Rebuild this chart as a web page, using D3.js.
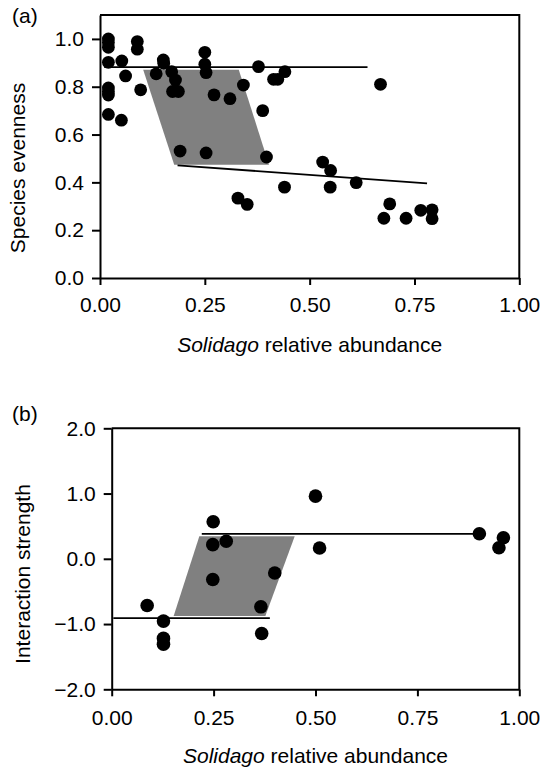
<!DOCTYPE html>
<html>
<head>
<meta charset="utf-8">
<script src="https://cdn.jsdelivr.net/npm/d3@7"></script>
<style>
  body { margin: 0; background: #fff; }
  text { font-family: "Liberation Sans", Arial, Helvetica, sans-serif; fill: #000; }
</style>
</head>
<body>
<svg></svg>
<script>
// panel (a): Solidago relative abundance vs species evenness
var evenAbund = [0.02, 0.02, 0.02, 0.02, 0.02, 0.02, 0.02, 0.02, 0.052, 0.061, 0.051, 0.089, 0.089, 0.097,
    0.134, 0.151, 0.152, 0.171, 0.18, 0.173, 0.187, 0.191, 0.25, 0.25, 0.253, 0.253, 0.272, 0.31, 0.342,
    0.329, 0.351, 0.378, 0.388, 0.397, 0.414, 0.424, 0.441, 0.44, 0.531, 0.55, 0.549, 0.611, 0.669,
    0.677, 0.691, 0.73, 0.765, 0.792, 0.792];
var evenValue = [1.0, 0.985, 0.965, 0.902, 0.795, 0.78, 0.765, 0.684, 0.908, 0.845, 0.66, 0.989, 0.957, 0.787,
    0.854, 0.912, 0.898, 0.863, 0.828, 0.78, 0.78, 0.531, 0.944, 0.894, 0.859, 0.523, 0.766, 0.75, 0.807,
    0.334, 0.308, 0.884, 0.70, 0.506, 0.831, 0.831, 0.863, 0.38, 0.485, 0.45, 0.38, 0.399, 0.81,
    0.25, 0.31, 0.25, 0.283, 0.285, 0.248];
var evenFitHigh = [[0.01, 0.882], [0.638, 0.882]];
var evenFitLow = [[0.185, 0.471], [0.78, 0.396]];
var evenBand = [[0.103, 0.871], [0.331, 0.871], [0.403, 0.474], [0.177, 0.474]];
var evenTicks = [0, 0.2, 0.4, 0.6, 0.8, 1.0];

// panel (b): Solidago relative abundance vs interaction strength
var interAbund = [0.087, 0.127, 0.127, 0.127, 0.249, 0.248, 0.281, 0.248, 0.40, 0.366, 0.368, 0.50, 0.51,
    0.902, 0.961, 0.95];
var interValue = [-0.716, -0.955, -1.22, -1.31, 0.568, 0.217, 0.268, -0.318, -0.217, -0.736, -1.144, 0.96, 0.166,
    0.383, 0.322, 0.169];
var interFitHigh = [[0.221, 0.383], [0.898, 0.383]];
var interFitLow = [[0.004, -0.91], [0.388, -0.91]];
var interBand = [[0.215, 0.344], [0.449, 0.344], [0.377, -0.877], [0.152, -0.877]];
var interTicks = [-2, -1, 0, 1, 2];

var abundTicks = [0, 0.25, 0.5, 0.75, 1.0];

var svg = d3.select('svg')
    .attr('width', 541)
    .attr('height', 770);

function panel(opt) {
    var g = svg.append('g').attr('transform', 'translate(' + opt.left + ',' + opt.top + ')');
    var x = d3.scaleLinear().domain([0, 1]).range([0, opt.width]);
    var y = d3.scaleLinear().domain(opt.yDomain).range([opt.height, 0]);

    g.append('polygon')
        .attr('points', opt.band.map(function (p) { return x(p[0]) + ',' + y(p[1]); }).join(' '))
        .style('fill', '#808080');

    var line = d3.line().x(function (p) { return x(p[0]); }).y(function (p) { return y(p[1]); });
    [opt.fitHigh, opt.fitLow].forEach(function (f) {
        g.append('path').attr('d', line(f))
            .style('fill', 'none').style('stroke', '#000').style('stroke-width', 1.8);
    });

    g.selectAll('circle.dot')
        .data(opt.xs)
        .enter().append('circle')
        .attr('class', 'dot')
        .attr('cx', function (d) { return x(d); })
        .attr('cy', function (d, i) { return y(opt.ys[i]); })
        .attr('r', opt.r)
        .style('fill', '#000');

    // frame top / right
    g.append('path')
        .attr('d', 'M0,0H' + opt.width + 'V' + opt.height)
        .style('fill', 'none').style('stroke', '#000').style('stroke-width', 2);

    var xa = g.append('g').attr('transform', 'translate(0,' + opt.height + ')')
        .call(d3.axisBottom(x).tickValues(abundTicks).tickFormat(d3.format('.2f'))
            .tickSize(7).tickPadding(opt.xPad).tickSizeOuter(0));
    var ya = g.append('g')
        .call(d3.axisLeft(y).tickValues(opt.yTicks).tickFormat(d3.format('.1f'))
            .tickSize(8).tickPadding(8).tickSizeOuter(0));
    [xa, ya].forEach(function (a) {
        a.select('.domain').style('stroke-width', 2);
        a.selectAll('.tick line').style('stroke-width', 2);
        a.selectAll('.tick text').style('font-size', '21px')
            .style('font-family', '"Liberation Sans", Arial, Helvetica, sans-serif');
    });

    var title = svg.append('text')
        .attr('x', opt.left + opt.width / 2)
        .attr('y', opt.titleY)
        .attr('text-anchor', 'middle')
        .style('font-size', '21px');
    title.append('tspan').style('font-style', 'italic').text('Solidago');
    title.append('tspan').text(' relative abundance');

    svg.append('text')
        .attr('transform', 'translate(' + opt.ylabX + ',' + opt.ylabY + ') rotate(-90)')
        .attr('text-anchor', 'middle')
        .style('font-size', '21px')
        .text(opt.ylab);

    svg.append('text')
        .attr('x', 12)
        .attr('y', opt.tagY)
        .style('font-size', '21px')
        .text(opt.tag);
}

panel({
    left: 100, top: 15, width: 419.3, height: 263,
    yDomain: [0, 1.1], yTicks: evenTicks,
    xs: evenAbund, ys: evenValue, r: 6.4,
    fitHigh: evenFitHigh, fitLow: evenFitLow, band: evenBand,
    xPad: 12, titleY: 351.5,
    ylab: 'Species evenness', ylabX: 25, ylabY: 168,
    tag: '(a)', tagY: 23
});

panel({
    left: 111.7, top: 428.3, width: 407.6, height: 261,
    yDomain: [-2, 2], yTicks: interTicks,
    xs: interAbund, ys: interValue, r: 6.8,
    fitHigh: interFitHigh, fitLow: interFitLow, band: interBand,
    xPad: 13.5, titleY: 763,
    ylab: 'Interaction strength', ylabX: 30, ylabY: 574,
    tag: '(b)', tagY: 421
});
</script>
</body>
</html>
